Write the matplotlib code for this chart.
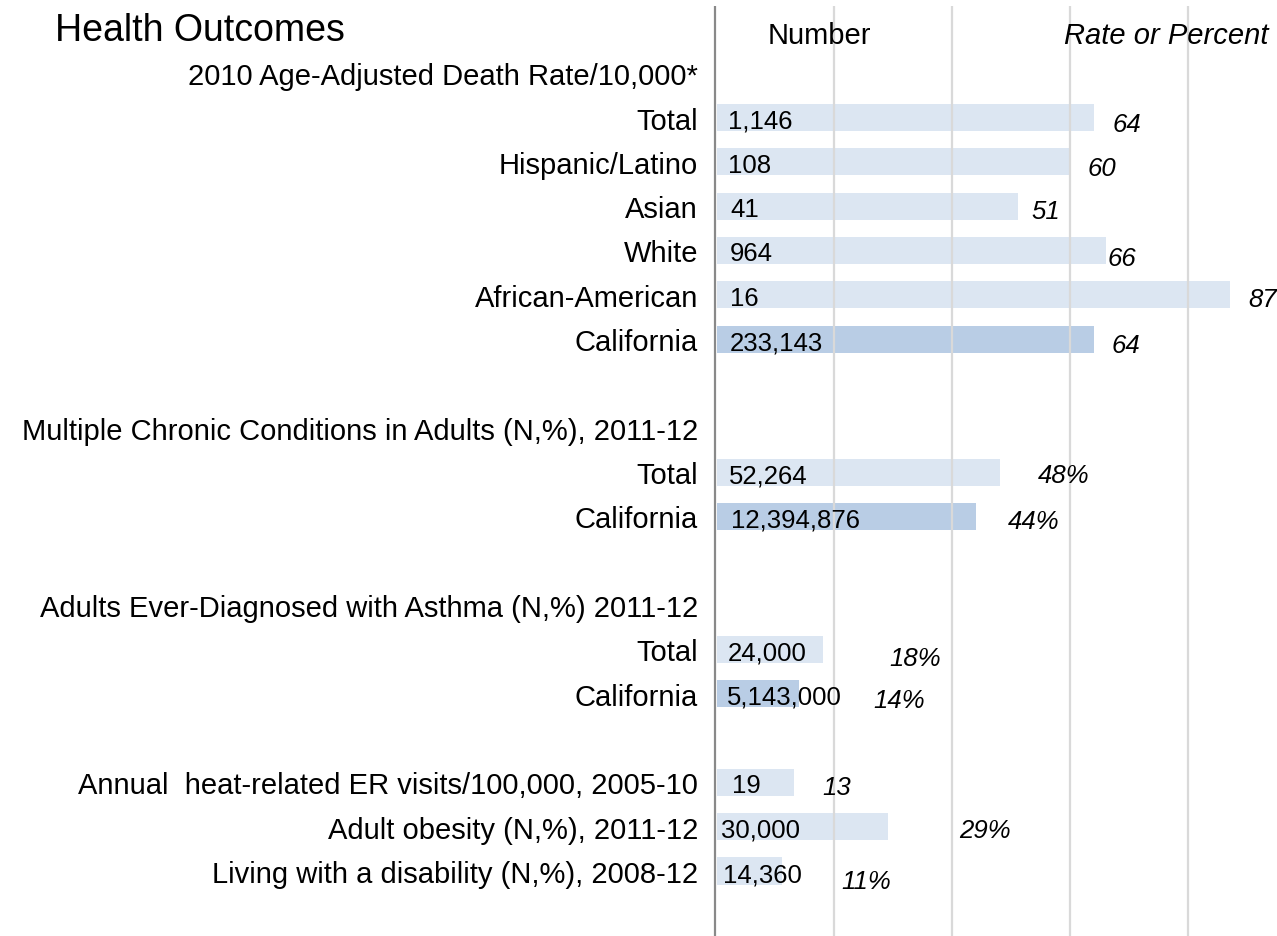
import matplotlib
matplotlib.use("Agg")
import matplotlib.pyplot as plt

plt.rcParams['font.family'] = ['Liberation Sans', 'DejaVu Sans']

# Veriler
death_labels = ["Total", "Hispanic/Latino", "Asian", "White", "African-American", "California"]
death_numbers = ["1,146", "108", "41", "964", "16", "233,143"]
death_rates = [64, 60, 51, 66, 87, 64]

chronic_labels = ["Total", "California"]
chronic_numbers = ["52,264", "12,394,876"]
chronic_pct = [48, 44]

asthma_labels = ["Total", "California"]
asthma_numbers = ["24,000", "5,143,000"]
asthma_pct = [18, 14]

other_labels = ["Annual  heat-related ER visits/100,000, 2005-10",
                "Adult obesity (N,%), 2011-12",
                "Living with a disability (N,%), 2008-12"]
other_numbers = ["19", "30,000", "14,360"]
other_values = [13, 29, 11]
other_is_pct = [False, True, True]

headers = ["2010 Age-Adjusted Death Rate/10,000*",
           "Multiple Chronic Conditions in Adults (N,%), 2011-12",
           "Adults Ever-Diagnosed with Asthma (N,%) 2011-12"]

# satirlari olustur: (satir, etiket, sayi, deger, metin)
rows = []
for i in range(len(death_labels)):
    rows.append((1 + i, death_labels[i], death_numbers[i], death_rates[i], str(death_rates[i])))
for i in range(len(chronic_labels)):
    rows.append((9 + i, chronic_labels[i], chronic_numbers[i], chronic_pct[i], f"{chronic_pct[i]}%"))
for i in range(len(asthma_labels)):
    rows.append((13 + i, asthma_labels[i], asthma_numbers[i], asthma_pct[i], f"{asthma_pct[i]}%"))
for i in range(len(other_labels)):
    txt = f"{other_values[i]}%" if other_is_pct[i] else str(other_values[i])
    rows.append((16 + i, other_labels[i], other_numbers[i], other_values[i], txt))
header_rows = [0, 8, 12]

# etiket konumlari (yerlesim)
number_x = [1.98, 1.98, 2.4, 2.3, 2.3, 2.3, 2.2, 2.5, 2.0, 1.9, 2.66, 0.8, 1.2]
rate_x = [67.2, 63.0, 53.4, 66.3, 90.3, 67.0, 54.6, 49.5, 29.3, 26.6, 18.1, 41.2, 21.3]
rate_dy = [3, 3, 2, 5, 1.5, 3, 0, 2, 6, 3, 2, 0, 6.7]
dy = 0.07  # metin kaymasi

light = "#DCE6F2"
dark = "#B9CDE5"

fig = plt.figure(figsize=(12.77, 9.37), dpi=100)
ax = fig.add_axes([0, 0, 1, 1])
ax.set_xlim(-716 / 5.9, 561 / 5.9)
ax.set_ylim(1 + (937 - 118.4) / 44.33, 1 - 118.4 / 44.33)
ax.axis("off")

top = -1.52
bottom = 1 + (937 - 118.4) / 44.33

# izgara cizgileri
ax.vlines([20, 40, 60, 80], top, bottom, color="#D9D9D9", linewidth=1.6, zorder=2)
ax.vlines([-0.1], top, bottom, color="#898989", linewidth=1.6, zorder=2)

for k, (r, lab, num, val, txt) in enumerate(rows):
    col = dark if lab == "California" else light
    ax.barh(r, val, height=0.61, left=0.15, color=col, zorder=1)
    ax.text(-3.05, r + dy, lab, ha="right", va="center", fontsize=21, zorder=3)
    ax.text(number_x[k], r + dy, num, ha="left", va="center", fontsize=18.5, zorder=3)
    ax.text(rate_x[k], r + dy + rate_dy[k] / 44.33, txt, ha="left", va="center",
            fontsize=18.5, style="italic", zorder=3)

for h, r in zip(headers, header_rows):
    ax.text(-3.05, r + dy, h, ha="right", va="center", fontsize=21)

ax.text(-112.0, -1.075 + 0.1, "Health Outcomes", ha="left", va="center", fontsize=27)
ax.text(17.6, -0.93 + dy, "Number", ha="center", va="center", fontsize=21)
ax.text(59.0, -0.93 + dy, "Rate or Percent", ha="left", va="center", fontsize=21, style="italic")

plt.savefig("out.png", dpi=100)
